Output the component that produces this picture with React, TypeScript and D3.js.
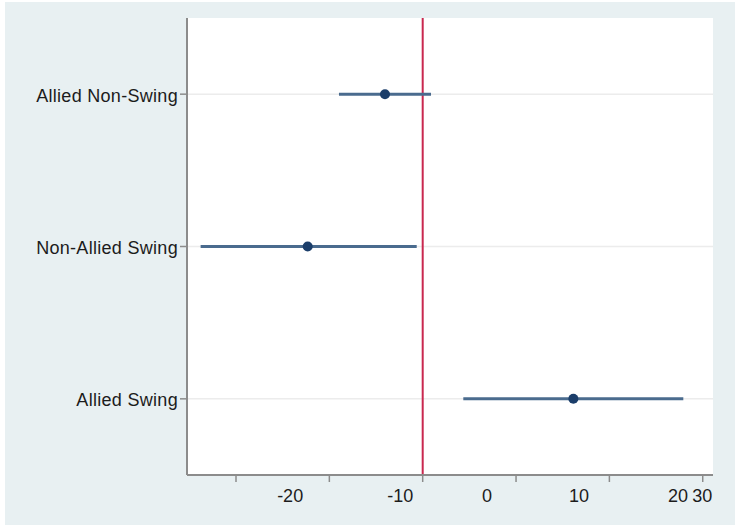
import React from "react";
import * as d3 from "d3";

// Categories (top to bottom)
const categories = ["Allied Non-Swing", "Non-Allied Swing", "Allied Swing"];
// Point estimates and confidence bounds
const estimates = [-4.04, -12.32, 16.14];
const lowerBounds = [-8.97, -23.79, 4.35];
const upperBounds = [0.89, -0.64, 27.92];
// X-axis tick marks (values)
const xTicks = [-20, -10, 0, 10, 20, 30];
// X-axis tick labels and where they sit on the value axis (as printed in the reference)
const xTickLabels = ["-20", "-10", "0", "10", "20", "30"];
const xTickLabelValues = [-14.2, -2.4, 6.9, 16.75, 27.35, 29.95];
// Reference line value
const referenceValue = 0;

const W = 735;
const H = 529;
const plot = { left: 187, right: 713, top: 18, bottom: 475 };

export default function App() {
  const x = d3.scaleLinear().domain([-25.25, 31.1]).range([plot.left, plot.right]);
  const y = d3
    .scalePoint<string>()
    .domain(categories)
    .range([plot.top, plot.bottom])
    .padding(0.5);

  const font = "'Liberation Sans', Arial, Helvetica, sans-serif";
  const axisColor = "#8c8c8c";

  return (
    <svg
      width={W}
      height={H}
      style={{ position: "absolute", left: 0, top: 0, display: "block" }}
    >
      <rect x={0} y={0} width={W} height={H} fill="#ffffff" />
      <rect x={5} y={2} width={W - 5} height={523} fill="#e8f0f2" />
      <rect
        x={plot.left}
        y={plot.top}
        width={plot.right - plot.left}
        height={plot.bottom - plot.top}
        fill="#ffffff"
      />
      {/* gridlines */}
      {categories.map((c) => (
        <line
          key={"g" + c}
          x1={plot.left}
          x2={plot.right}
          y1={y(c)!}
          y2={y(c)!}
          stroke="#ececec"
          strokeWidth={1.5}
        />
      ))}
      {/* reference line */}
      <line
        x1={x(referenceValue)}
        x2={x(referenceValue)}
        y1={plot.top}
        y2={plot.bottom}
        stroke="#c9284f"
        strokeWidth={2}
      />
      {/* CIs and points */}
      {categories.map((c, i) => (
        <g key={"m" + c}>
          <line
            x1={x(lowerBounds[i])}
            x2={x(upperBounds[i])}
            y1={y(c)!}
            y2={y(c)!}
            stroke="#4a6b8e"
            strokeWidth={3}
          />
          <circle cx={x(estimates[i])} cy={y(c)!} r={5} fill="#1b3e6a" />
        </g>
      ))}
      {/* axes */}
      <line
        x1={plot.left}
        x2={plot.left}
        y1={plot.top}
        y2={plot.bottom}
        stroke={axisColor}
        strokeWidth={2}
      />
      <line
        x1={plot.left}
        x2={plot.right}
        y1={plot.bottom}
        y2={plot.bottom}
        stroke={axisColor}
        strokeWidth={2}
      />
      {categories.map((c) => (
        <g key={"yl" + c}>
          <line
            x1={plot.left - 7}
            x2={plot.left}
            y1={y(c)!}
            y2={y(c)!}
            stroke={axisColor}
            strokeWidth={1.5}
          />
          <text
            x={178}
            y={y(c)! + 7.5}
            textAnchor="end"
            fontFamily={font}
            fontSize={18}
            letterSpacing={0.3}
            fill="#1c1c1c"
          >
            {c}
          </text>
        </g>
      ))}
      {xTicks.map((t) => (
        <line
          key={"xt" + t}
          x1={x(t)}
          x2={x(t)}
          y1={plot.bottom}
          y2={plot.bottom + 7}
          stroke={axisColor}
          strokeWidth={1.5}
        />
      ))}
      {xTickLabels.map((l, i) => (
        <text
          key={"xl" + l}
          x={x(xTickLabelValues[i])}
          y={502}
          textAnchor="middle"
          fontFamily={font}
          fontSize={18}
          fill="#1c1c1c"
        >
          {l}
        </text>
      ))}
    </svg>
  );
}
